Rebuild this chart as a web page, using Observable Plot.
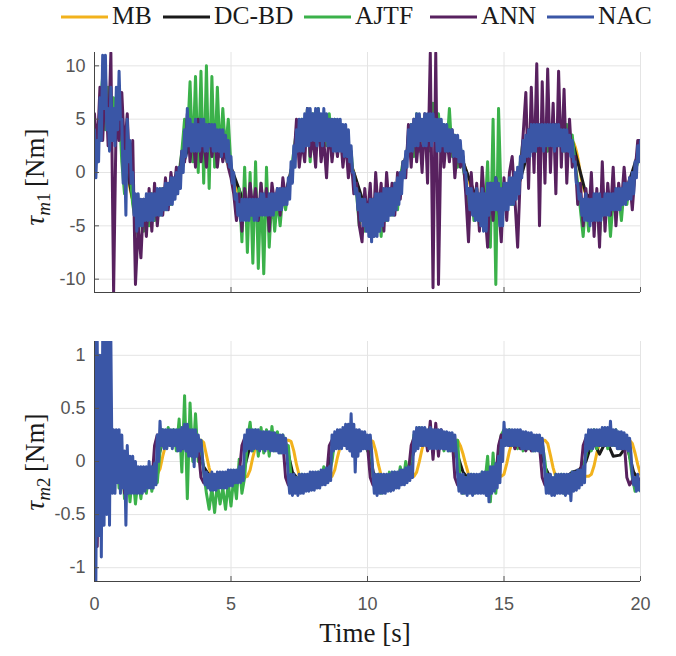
<!DOCTYPE html>
<html><head><meta charset="utf-8">
<script src="https://cdn.jsdelivr.net/npm/d3@7"></script>
<script src="https://cdn.jsdelivr.net/npm/@observablehq/plot@0.6"></script>
<style>
body{margin:0;background:#fff;width:676px;height:656px;overflow:hidden;}
#legend,#top,#bot{line-height:0;}
</style></head>
<body><div id="legend"></div><div id="top"></div><div id="bot"></div>
<script>
// ---------- series names / colours ----------
const names  = ["MB", "DC-BD", "AJTF", "ANN", "NAC"];
const colors = ["#f2b21c", "#1a1a1a", "#3bb14a", "#58215f", "#3a56a6"];

// ---------- x (time) ----------
const xTicks = [0, 5, 10, 15, 20];
const dtDense = 0.05, dtFine = 0.1, dtMid = 0.25, dtCoarse = 0.5;

// ---------- top panel: tau_m1 [Nm] ----------
const yTicksTop = [-10, -5, 0, 5, 10];
const MB_top = [4,5,3,-3,-3.5,-3,-1.5,3,3.5,3, 0,-3,-3.5,-3,-2,3,4,4,3.5,0,
  -4,-4,-2.5,2,4,4,3.5,1,-2.5,-3, -2.5,-1,3,3.5,3.5,3,-2,-3,-2.5,-2, 2.5];
const DCBD_top = [4,6,3,-4,-3,-1.5,-1.5,3,3.5,3, 0.5,-3,-3.5,-3,-2,3.5,4,4,3.5,0,
  -4,-4,-2.5,2.5,4,4,3.5,1,-2.5,-3, -1.5,-1.5,3,3.5,3.5,3,-2,-3,-2.5,-1.5, 2.5];
const AJTF_top = [
  3.5,1,6,9,4,8,3,7,4,6.5,
  1,-2,3,0,-3,-4.5,-6,-3,-5.5,-2.5,
  -5,-2,-4.5,-2.5,-4,-1.5,-3.5,-1.5,-3,-1,
  -2,0,2,5,3,8.5,1,9,0,9.5,
  -1,10,-1.5,9,0.5,8,1.5,6,2,5,
  0.5,-1,-4,-1.5,-6.5,0.5,-7.5,0,-8.5,1,
  -9,-1,-9.5,0.5,-7,-2,-5.5,-2.5,-5,-2,
  -3.5,-1.5,0,2,4,2,5,2.5,6,1,
  5.5,2.5,6,1.5,5,2.5,5.5,1.5,5,2,
  4.5,1,4,0.5,2,-1,-2,-5,-2.5,-5.5,
  -3,-6,-2.5,-5.5,-2.5,-6,-2,-4.5,-1.5,-4,
  -1,-3.5,-0.5,1,0.5,3.5,4.5,1.5,5.5,2,
  4.5,2.5,5,2,6.5,2.5,5.5,1.5,4.5,2,
  6,1.5,3.5,0.5,2.5,0.5,-1,-4,-2,-4.5,
  -1.5,-5,-2,-4,1,-7,5,-10.5,6,-3,
  -1,-3.5,-1.5,-3,-0.5,-2,1,3,2,4,
  2.5,4.5,2,4,2.5,4.5,2,4,3,4.5,
  2.5,4,2,4.5,3,3.5,1,-1,-3.5,-6,
  -2.5,-5.5,-2,-5,-3,-6,-2.5,-4.5,-2,-6,
  -2.5,-4,-2,-4.5,-1.5,-3,-1,-2.5,0,1,
  2];
const ANN_top = [
  5.5,2,8,3,9,2.5,11.2,-11.2,6,3,
  7.5,2,5.5,-1,3,-10.5,-5,-8,-2.5,-6,
  -1.5,-5.5,-1,-5,-2,-4,-0.5,-3.5,0,-2,
  0.5,-1,2,1,5.5,1,4,0.5,5,1,
  3.5,0.5,4.5,1.5,3.5,0.5,3,1,2.5,0.5,
  -0.5,-2,-4.5,-2,-5.5,-1.5,-4,-1,-3.5,-1.5,
  -4.5,-1,-3.5,-1.5,-5.5,-1,-3,-1.5,-4,-0.5,
  -2.5,-1,-0.5,1,5,0.5,3,1,6,1.5,
  3.5,0.5,5.5,1,3,-0.5,4.5,1,3.5,1.5,
  4,0.5,3,-0.5,1.5,-2,-1,-5,-6.5,-1.5,
  -4.5,-1,-6,0,-4,-1,-5.5,0,-3.5,-1,
  -4,0,-2.5,1,-0.5,4.5,0.5,5,1,4,
  0,5.5,-1,11.2,-10.8,11.2,-10.5,4.5,0.5,3.5,
  1,4,-0.5,2.5,0.5,1.5,-2,-6.5,0,-4,
  -1,-5.5,0.5,-3.5,-7,-1,-4.5,-0.5,-3,-6.5,
  -0.5,-4.5,0,1.5,-2.5,-7,0,3.5,7.5,-1.5,
  8,0,10.2,-5,8.5,-1,9.7,0,6.5,-2,
  9.5,0.5,7.8,-1,5,0.5,1.5,-3,-1,-5,
  -1.5,-4.5,0,-6,-1.5,-7,1,-5.5,-1,-4,
  0.5,-5,-1,-3,0.5,-2.5,-0.5,-3.5,0,3,
  3];
// NAC sampled every 0.05 s (one line = 1 s)
const NAC_top = [
  4,-0.5, 3,1, 7,3, 11,6, 11,4, 6,2, 8,3, 6,2.5, 8,4, 9.5,5,
  5,-1, 2,-4, 5,1, 3,-1, 0,-4, -2,-5.5, -2,-5, -2.5,-5, -2.5,-4.5, -2,-4.5,
  -2,-4.5, -2,-4.5, -2,-4, -1.5,-4, -1.5,-4, -1.5,-3.5, -1,-3.5, -1,-3, -0.5,-3, -0.5,-2.5,
  0,-2, 0.5,-1.5, 2,0, 4,1.5, 6,2.5, 5,2, 4.5,2, 5,2, 4.5,2, 5,2.5,
  5,2, 4.5,2, 4.5,2.5, 4.5,2, 4.5,2, 4,2, 4,1.5, 4,2, 3.5,1, 3,0.5,
  1.5,-1, 0,-2.5, -2,-4, -3,-4.5, -2.5,-4.5, -2.5,-4.5, -2.5,-4.5, -2.5,-4, -2.5,-4.5, -2.5,-4.5,
  -2.5,-4, -2,-4, -2,-4, -2.5,-4, -2,-4, -2,-4, -2,-3.5, -1.5,-3.5, -1.5,-3.5, -1.5,-3,
  -1.5,-3, -0.5,-2.5, 1,-1, 2.5,0.5, 4,2, 5,2, 5,2, 5.5,2.5, 6,2.5, 6,3,
  5.5,3, 6,2.5, 6,3, 5.5,2.5, 6,3, 5.5,2.5, 5,2.5, 5,2, 5,2, 5,2,
  5,2, 4.5,1.5, 4.5,1.5, 4,1, 2.5,0, 0,-2, -1.5,-3.5, -2,-4.5, -2.5,-5, -2.5,-5.5,
  -3,-6, -2.5,-6.5, -2.5,-6, -2,-6, -2,-5.5, -2,-5, -1.5,-4.5, -1.5,-4.5, -1.5,-4, -1.5,-4,
  -1,-3.5, -0.5,-3, 0,-2, 1,-0.5, 2,0.5, 4,2, 4.5,2, 5,2.5, 5.5,2.5, 5.5,3,
  5,2.5, 5.5,2.5, 5.5,3, 5.5,2.5, 5.5,3, 5,2, 5,2, 5,2.5, 4.5,2, 4.5,2,
  4,2, 4,1.5, 3.5,1.5, 3.5,1, 3,1, 2,0, 0,-2, -1.5,-3.5, -1.5,-4, -2,-4.5,
  -1.5,-4.5, -2,-5, -1.5,-5.5, -2,-5.5, -1,-4, -1,-3.5, -1,-3.5, -0.5,-3.5, -1,-5, -1.5,-5,
  -1,-3.5, -1,-3.5, -0.5,-3, -0.5,-3, 0,-2.5, 0.5,-2, 1.5,-0.5, 3,1, 3.5,1.5, 4,1.5,
  4.5,2, 4.5,2, 4.5,2.5, 4.5,2.5, 4.5,2, 4.5,2.5, 4.5,2.5, 4.5,2.5, 4.5,2, 4.5,2.5,
  4.5,2.5, 4,2, 4,2, 4,2, 3.5,1.5, 3,1, 1,-1, -1,-2.5, -2,-4, -2.5,-4.5,
  -2,-4.5, -2.5,-5, -2.5,-4.5, -2,-4.5, -2,-4.5, -2,-4.5, -2.5,-4, -2,-4, -2,-4, -2,-3.5,
  -2,-3.5, -1.5,-3.5, -1.5,-3.5, -1.5,-3, -1,-3, -1,-2.5, -0.5,-2.5, 0,-2, 1,-0.5, 2.5,1,
  3];

// ---------- bottom panel: tau_m2 [Nm] ----------
const yTicksBot = [-1, -0.5, 0, 0.5, 1];
const MB_bot = [
  0,0.2,-0.3,0.3,-0.2,0.1,0,-0.1,-0.1,-0.12,
  -0.12,-0.15,-0.15,-0.15,-0.15,-0.14,-0.14,-0.13,-0.13,-0.13,
  -0.12,-0.12,-0.12,-0.12,-0.07,0.05,0.15,0.2,0.21,0.21,
  0.21,0.21,0.21,0.21,0.21,0.21,0.2,0.2,0.2,0.2,
  0.18,0.06,-0.06,-0.15,-0.18,-0.18,-0.18,-0.18,-0.18,-0.17,
  -0.17,-0.17,-0.16,-0.16,-0.15,-0.15,-0.14,-0.08,0.04,0.14,
  0.19,0.21,0.21,0.21,0.21,0.21,0.21,0.2,0.2,0.2,
  0.2,0.2,0.19,0.1,-0.03,-0.13,-0.18,-0.18,-0.18,-0.18,
  -0.18,-0.17,-0.17,-0.16,-0.16,-0.15,-0.14,-0.14,-0.08,0.04,
  0.14,0.19,0.21,0.21,0.21,0.21,0.21,0.21,0.2,0.2,
  0.2,0.2,0.19,0.1,-0.03,-0.13,-0.18,-0.18,-0.18,-0.18,
  -0.18,-0.17,-0.17,-0.16,-0.16,-0.15,-0.14,-0.14,-0.1,0,
  0.12,0.19,0.21,0.21,0.21,0.21,0.21,0.21,0.2,0.2,
  0.2,0.2,0.2,0.2,0.15,0.07,-0.03,-0.12,-0.18,-0.18,
  -0.18,-0.18,-0.17,-0.17,-0.16,-0.16,-0.15,-0.15,-0.14,-0.14,
  -0.12,-0.02,0.1,0.18,0.21,0.21,0.21,0.21,0.21,0.21,
  0.21,0.2,0.2,0.2,0.2,0.2,0.17,0.06,-0.06,-0.15,
  -0.18,-0.18,-0.18,-0.18,-0.17,-0.17,-0.16,-0.16,-0.15,-0.15,
  -0.14,-0.14,-0.12,-0.04,0.08,0.17,0.2,0.21,0.21,0.21,
  0.21,0.21,0.2,0.2,0.2,0.2,0.2,0.17,0.08,-0.03,
  -0.12];
const DCBD_bot = [
  0.2,-0.3,0.3,-0.1,0.05,-0.15,-0.12,-0.1,
  -0.07,-0.05,0.2,0.2,0.22,0.2,0.2,0.18,
  -0.05,-0.15,-0.18,-0.18,-0.17,-0.15,-0.05,0.2,
  0.2,0.2,0.2,0.2,0.18,-0.1,-0.18,-0.2,
  -0.18,-0.15,-0.12,0.15,0.22,0.22,0.22,0.2,
  0.18,-0.15,-0.18,-0.15,-0.15,-0.13,-0.1,0.15,
  0.22,0.22,0.22,0.2,0.2,0.1,-0.1,-0.18,
  -0.18,-0.17,-0.15,-0.12,0.2,0.22,0.2,0.2,
  0.18,0.18,-0.05,-0.18,-0.18,-0.15,-0.1,-0.08,
  0,0.2,0.07,0.2,0.05,0.06,0.15,-0.1,
  -0.2];
const AJTF_bot = [
  0.3,-0.5,0.6,-0.4,0.5,-0.3,0.4,-0.2,0.2,-0.25,
  0.1,-0.35,-0.05,-0.38,-0.1,-0.4,-0.15,-0.35,-0.1,-0.3,
  -0.05,-0.28,-0.1,-0.2,0.1,0.3,0.2,0.32,0.18,0.3,
  0.1,0.4,-0.1,0.62,-0.35,0.55,0,0.45,0,0.2,
  -0.1,-0.3,-0.45,-0.25,-0.48,-0.2,-0.4,-0.25,-0.45,-0.2,
  -0.42,-0.15,-0.35,0.02,-0.3,-0.15,0.2,0.37,0.1,0.3,
  0.05,0.32,0.08,0.3,0.05,0.33,0.1,0.28,0.08,0.25,
  0.12,0.15,-0.15,-0.25,-0.15,-0.28,-0.12,-0.25,-0.15,-0.22,
  -0.12,-0.22,-0.1,-0.2,-0.05,-0.18,-0.1,0,0.2,0.28,
  0.15,0.27,0.18,0.3,0.15,0.28,0.12,0.27,0.15,0.25,
  0.1,0.2,-0.15,-0.28,-0.12,-0.3,-0.15,-0.27,-0.1,-0.25,
  -0.1,-0.22,-0.05,-0.2,0,-0.15,0.05,0.25,0.15,0.32,
  0.2,0.3,0.15,0.33,0.15,0.3,0.12,0.28,0.1,0.25,
  0.1,0.22,0.05,0.2,-0.2,-0.3,-0.15,-0.28,-0.12,-0.3,
  -0.15,-0.25,-0.1,-0.2,0.05,-0.38,0.08,-0.3,0.1,0.25,
  0.3,0.18,0.3,0.15,0.27,0.12,0.25,0.1,0.25,0.12,
  0.22,0.1,0.2,0.12,0.18,0,-0.25,-0.15,-0.3,-0.12,
  -0.28,-0.12,-0.3,-0.15,-0.27,-0.1,-0.25,-0.1,-0.2,-0.05,
  0.05,0.25,0.1,0.3,0.12,0.27,0.15,0.3,0.12,0.28,
  0.15,0.3,0.12,0.25,0.15,0.2,0.05,-0.15,-0.28,-0.18,
  -0.28];
const ANN_bot = [
  0.5,-0.8,0.9,-0.5,0.7,-0.3,0.4,-0.2,0.2,-0.2,
  0.1,-0.3,0,-0.25,-0.05,-0.28,-0.1,-0.25,-0.12,-0.2,
  -0.12,-0.2,0.15,0.25,0.15,0.25,0.15,0.22,0.15,0.25,
  0.15,0.22,0.12,0.25,0.1,0.2,0.1,0.2,0.12,-0.15,
  -0.2,-0.15,-0.22,-0.15,-0.2,-0.15,-0.22,-0.15,-0.2,-0.12,
  -0.2,-0.12,-0.18,-0.12,0.15,0.22,0.15,0.2,0.15,0.22,
  0.15,0.2,0.15,0.22,0.15,0.2,0.12,0.2,0.12,0.18,
  -0.15,-0.22,-0.15,-0.22,-0.18,-0.22,-0.15,-0.2,-0.15,-0.2,
  -0.15,-0.2,-0.12,-0.18,-0.12,-0.15,0.15,0.2,0.15,0.22,
  0.18,0.22,0.15,0.25,0.2,0.22,0.15,0.2,0.15,0.2,
  0.15,-0.15,-0.22,-0.15,-0.22,-0.18,-0.22,-0.15,-0.2,-0.15,
  -0.2,-0.12,-0.18,-0.12,-0.15,-0.1,0.15,0.22,0.15,0.25,
  0.15,0.28,0.1,0.38,0.02,0.36,0.05,0.3,0.12,0.25,
  0.15,0.22,-0.15,-0.22,-0.15,-0.22,-0.18,-0.22,-0.15,-0.22,
  -0.15,-0.2,-0.15,-0.2,-0.12,-0.18,-0.12,-0.15,0.15,0.25,
  0.2,0.25,0.15,0.22,0.12,0.2,0.12,0.18,0.1,0.18,
  0.1,0.15,0.12,0.15,-0.15,-0.22,-0.15,-0.22,-0.18,-0.22,
  -0.15,-0.2,-0.15,-0.2,-0.15,-0.18,-0.12,-0.15,-0.12,0.15,
  0.22,0.15,0.22,0.18,0.25,0.15,0.22,0.15,0.25,0.18,
  0.22,0.15,0.2,0.12,0.2,-0.15,-0.22,-0.18,-0.22,-0.15,
  -0.2];
// NAC sampled every 0.05 s (one line = 1 s)
const NAC_bot = [
  1.13,-1.13, 1.13,-0.7, 1,-0.9, 1.13,-0.6, 1.13,-0.5, 1.13,-0.6, 1.13,-0.3, 0.3,-0.3, 0.3,-0.2, 0.3,-0.3,
  0.25,-0.25, 0.1,-0.6, 0.15,-0.3, 0.05,-0.3, 0.05,-0.3, 0,-0.3, -0.05,-0.3, -0.05,-0.3, -0.05,-0.28, -0.05,-0.25,
  0,-0.25, -0.05,-0.25, -0.02,-0.22, 0.25,0, 0.38,0.15, 0.3,0.12, 0.3,0.12, 0.3,0.15, 0.3,0.12, 0.3,0.15,
  0.3,0.1, 0.3,0.1, 0.32,0.12, 0.35,0.1, 0.35,0.05, 0.3,0.05, 0.3,-0.05, 0.3,0.05, 0.25,0.1, 0.2,0.05,
  -0.1,-0.22, -0.1,-0.25, -0.12,-0.27, -0.1,-0.27, -0.12,-0.27, -0.1,-0.25, -0.1,-0.25, -0.1,-0.25, -0.1,-0.25, -0.08,-0.23,
  -0.08,-0.23, -0.08,-0.2, -0.08,-0.2, -0.05,-0.2, -0.05,-0.18, 0.25,0.1, 0.3,0.12, 0.3,0.1, 0.3,0.12, 0.3,0.12,
  0.3,0.1, 0.28,0.12, 0.28,0.1, 0.28,0.12, 0.28,0.1, 0.27,0.1, 0.27,0.1, 0.25,0.08, 0.25,0.08, 0.25,0.08,
  0.22,0.06, -0.15,-0.3, -0.12,-0.32, -0.12,-0.3, -0.15,-0.32, -0.12,-0.3, -0.12,-0.3, -0.12,-0.28, -0.12,-0.28, -0.1,-0.27,
  -0.1,-0.27, -0.1,-0.25, -0.1,-0.25, -0.08,-0.22, -0.08,-0.22, -0.06,-0.2, -0.05,-0.18, 0.25,0.1, 0.28,0.12, 0.3,0.12,
  0.3,0.12, 0.32,0.15, 0.35,0.12, 0.35,0.1, 0.45,0.05, 0.35,-0.1, 0.3,0.05, 0.3,0.1, 0.28,0.12, 0.28,0.12,
  0.25,0.12, 0.25,0.1, -0.12,-0.3, -0.12,-0.32, -0.12,-0.3, -0.12,-0.3, -0.12,-0.3, -0.12,-0.28, -0.12,-0.28, -0.1,-0.27,
  -0.1,-0.25, -0.1,-0.25, -0.08,-0.22, -0.08,-0.22, -0.06,-0.2, -0.05,-0.18, -0.05,-0.15, 0.28,0.1, 0.32,0.12, 0.32,0.15,
  0.32,0.15, 0.32,0.15, 0.3,0.12, 0.32,0.12, 0.3,0.12, 0.3,0.12, 0.3,0.12, 0.3,0.12, 0.28,0.12, 0.28,0.1,
  0.27,0.1, 0.27,0.1, 0.25,0.1, -0.12,-0.28, -0.12,-0.3, -0.12,-0.3, -0.15,-0.32, -0.12,-0.3, -0.12,-0.32, -0.12,-0.3,
  -0.12,-0.3, -0.12,-0.3, -0.1,-0.3, -0.1,-0.32, -0.1,-0.38, -0.05,-0.3, -0.05,-0.28, -0.02,-0.25, 0.05,-0.2, 0.2,0,
  0.37,0.15, 0.3,0.15, 0.3,0.15, 0.3,0.15, 0.3,0.15, 0.3,0.15, 0.3,0.12, 0.28,0.12, 0.28,0.12, 0.27,0.12,
  0.27,0.1, 0.25,0.1, 0.25,0.1, 0.25,0.08, 0.22,0.08, -0.12,-0.3, -0.12,-0.3, -0.12,-0.32, -0.15,-0.32, -0.12,-0.3,
  -0.12,-0.3, -0.12,-0.3, -0.12,-0.32, -0.12,-0.3, -0.12,-0.37, -0.1,-0.28, -0.1,-0.27, -0.08,-0.25, -0.08,-0.22, -0.05,-0.2,
  0.25,0.1, 0.3,0.12, 0.3,0.12, 0.3,0.15, 0.3,0.15, 0.3,0.15, 0.32,0.15, 0.32,0.15, 0.32,0.15, 0.38,0.15,
  0.3,0.15, 0.3,0.12, 0.28,0.12, 0.28,0.12, 0.27,0.12, 0.25,0.1, 0.22,0.08, -0.12,-0.22, -0.15,-0.28, -0.12,-0.27,
  -0.2];

// ---------- helpers ----------
const rows = (vals, dt) => vals.map((v, i) => ({t: Math.round(i * dt * 1000) / 1000, v}));
const serif = "'Liberation Serif','Times New Roman',serif";

// ---------- legend (SVG above the panels) ----------
const legendLeft = [61, 163, 304, 430, 547];
const legSvg = d3.select("#legend").append("svg").attr("width", 676).attr("height", 40);
names.forEach((n, i) => {
  const x0 = legendLeft[i];
  legSvg.append("line").attr("x1", x0).attr("x2", x0 + 47).attr("y1", 17).attr("y2", 17)
    .attr("stroke", colors[i]).attr("stroke-width", 3);
  legSvg.append("text").attr("x", x0 + 51).attr("y", 23.5).attr("fill", "#1a1a1a")
    .style("font-family", serif).style("font-size", "25.5px").text(n);
});

function panel({height, marginTop, marginBottom, ydom, yticks, series, xLabels}) {
  return Plot.plot({
    width: 676, height, marginLeft: 94, marginRight: 36, marginTop, marginBottom,
    style: {fontFamily: "'Liberation Sans', Arial, sans-serif", fontSize: "18px", color: "#555", background: "white", overflow: "visible"},
    x: {domain: [0, 20]},
    y: {domain: ydom},
    marks: [
      Plot.gridX([5, 10, 15, 20], {stroke: "#e4e4e4", strokeOpacity: 1}),
      Plot.gridY(yticks, {stroke: "#e4e4e4", strokeOpacity: 1}),
      ...series.map(s => Plot.line(s.data, {x: "t", y: "v", stroke: s.color, strokeWidth: 3,
        strokeLinejoin: "round", clip: true, curve: s.curve || "linear"})),
      Plot.axisY(yticks, {tickSize: -5, tickPadding: 14, tickFormat: d => String(d), label: null, fontSize: 18}),
      Plot.axisX(xTicks, {tickSize: -5, tickPadding: 21, tickFormat: xLabels ? d => String(d) : () => "", label: null, fontSize: 18}),
      Plot.ruleX([0], {stroke: "#444"}),
      Plot.ruleY([ydom[0]], {stroke: "#444"})
    ]
  });
}

function ylabel(svg, cy, sub) {
  const t = d3.select(svg).append("text")
    .attr("transform", `translate(44,${cy}) rotate(-90)`)
    .attr("text-anchor", "middle")
    .attr("fill", "#1a1a1a")
    .style("font-family", serif).style("font-size", "27px");
  t.append("tspan").attr("font-style", "italic").text("τ");
  t.append("tspan").attr("font-style", "italic").attr("font-size", "19px").attr("dy", "6").text("m");
  t.append("tspan").attr("font-size", "19px").text(sub);
  t.append("tspan").attr("dy", "-6").text("\u2009[Nm]");
}

const topSvg = panel({
  height: 290, marginTop: 12, marginBottom: 38, ydom: [-11.25, 11.25], yticks: yTicksTop, xLabels: false,
  series: [
    {data: rows(MB_top, dtCoarse), color: colors[0], curve: "catmull-rom"},
    {data: rows(DCBD_top, dtCoarse), color: colors[1]},
    {data: rows(AJTF_top, dtFine), color: colors[2]},
    {data: rows(ANN_top, dtFine), color: colors[3]},
    {data: rows(NAC_top, dtDense), color: colors[4]}
  ]
});
ylabel(topSvg, 137, "1");
document.getElementById("top").appendChild(topSvg);

const botSvg = panel({
  height: 326, marginTop: 11, marginBottom: 75, ydom: [-1.13, 1.13], yticks: yTicksBot, xLabels: true,
  series: [
    {data: rows(MB_bot, dtFine), color: colors[0]},
    {data: rows(DCBD_bot, dtMid), color: colors[1]},
    {data: rows(AJTF_bot, dtFine), color: colors[2]},
    {data: rows(ANN_bot, dtFine), color: colors[3]},
    {data: rows(NAC_bot, dtDense), color: colors[4]}
  ]
});
ylabel(botSvg, 132, "2");
d3.select(botSvg).append("text")
  .attr("x", 365).attr("y", 312).attr("text-anchor", "middle").attr("fill", "#1a1a1a")
  .style("font-family", serif).style("font-size", "27px").text("Time [s]");
document.getElementById("bot").appendChild(botSvg);
</script></body></html>
